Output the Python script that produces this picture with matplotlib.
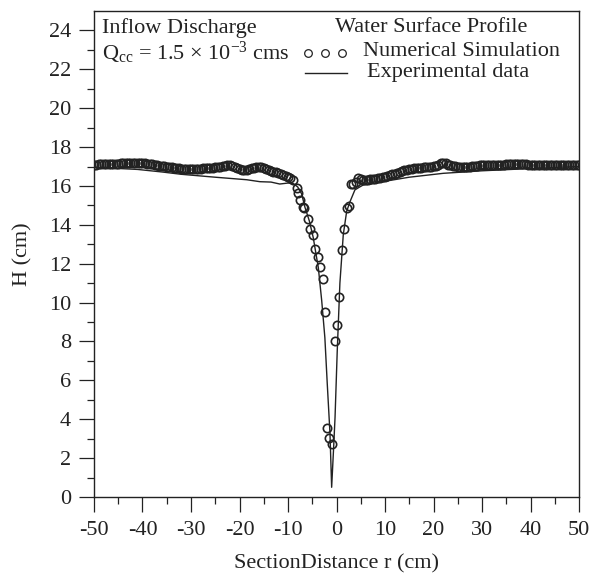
import matplotlib
matplotlib.use("Agg")
import matplotlib.pyplot as plt
import numpy as np
from matplotlib.ticker import MultipleLocator, FixedLocator

plt.rcParams['font.family'] = ['Liberation Serif', 'DejaVu Serif']
plt.rcParams['mathtext.fontset'] = 'custom'
plt.rcParams['mathtext.rm'] = 'Liberation Serif'
plt.rcParams['mathtext.it'] = 'Liberation Serif:italic'
plt.rcParams['axes.unicode_minus'] = False

# numerical simulation - flat part left of the well (0.5 cm spacing)
sim_left_x = np.arange(-50.0, -8.75, 0.5)
sim_left_y = [17.10, 17.10, 17.11, 17.11, 17.12, 17.12, 17.13, 17.13, 17.14, 17.14,
              17.15, 17.16, 17.17, 17.18, 17.18, 17.19, 17.19, 17.19, 17.18, 17.18,
              17.17, 17.16, 17.15, 17.13, 17.11, 17.09, 17.07, 17.05, 17.03, 17.01,
              16.99, 16.97, 16.95, 16.93, 16.92, 16.90, 16.89, 16.88, 16.87, 16.86,
              16.86, 16.86, 16.87, 16.88, 16.89, 16.90, 16.91, 16.92, 16.93, 16.94,
              16.95, 16.97, 16.99, 17.02, 17.05, 17.07, 17.06, 17.03, 16.98, 16.93,
              16.88, 16.84, 16.82, 16.83, 16.86, 16.90, 16.94, 16.97, 16.98, 16.96,
              16.92, 16.86, 16.80, 16.76, 16.74, 16.72, 16.68, 16.64, 16.58, 16.52,
              16.46, 16.40, 16.33]

# numerical simulation - around the drain
sim_mid_x = [-8.2, -7.9, -7.5, -6.9, -6.6, -5.8, -5.5, -4.9, -4.4, -3.9, -3.4, -2.85,
             -2.4, -1.9, -1.5, -0.9, -0.3, 0.2, 0.6, 1.05, 1.6, 2.2, 2.6]
sim_mid_y = [15.9, 15.65, 15.3, 14.9, 14.85, 14.3, 13.8, 13.5, 12.75, 12.35, 11.85, 11.2,
             9.5, 3.55, 3.05, 2.75, 8.0, 8.85, 10.3, 12.7, 13.8, 14.85, 14.95]

# numerical simulation - flat part right of the well
sim_right_x = np.arange(3.0, 50.25, 0.5)
sim_right_y = [16.10, 16.12, 16.18, 16.40, 16.35, 16.30, 16.30, 16.32, 16.34, 16.36,
               16.38, 16.40, 16.42, 16.45, 16.48, 16.52, 16.56, 16.60, 16.64, 16.68,
               16.72, 16.76, 16.80, 16.83, 16.86, 16.88, 16.90, 16.92, 16.93, 16.94,
               16.95, 16.96, 16.98, 17.00, 17.02, 17.05, 17.10, 17.16, 17.20, 17.16,
               17.10, 17.06, 17.04, 17.02, 17.00, 16.99, 16.98, 16.98, 16.99, 17.00,
               17.01, 17.03, 17.05, 17.06, 17.07, 17.08, 17.09, 17.09, 17.10, 17.10,
               17.10, 17.10, 17.10, 17.10, 17.11, 17.11, 17.11, 17.12, 17.12, 17.12,
               17.12, 17.11, 17.11, 17.10, 17.10, 17.10, 17.10, 17.10, 17.10, 17.10,
               17.10, 17.10, 17.10, 17.10, 17.10, 17.10, 17.10, 17.10, 17.10, 17.10,
               17.10, 17.10, 17.10, 17.10, 17.10]

# experimental data
exp_x = [-50, -45, -41, -36, -32, -25, -18.5, -15.8, -13.5, -11.7, -10, -8.9, -8.0,
         -7.2, -6.5, -5.6, -4.8, -3.75, -3.05, -2.4, -1.9, -1.35, -1.0, -0.6, -0.3,
         0.15, 0.7, 1.4, 2.1, 2.8, 3.8, 4.8, 5.5, 7, 9, 15, 22, 30, 36, 42, 50]
exp_y = [16.95, 16.9, 16.85, 16.72, 16.6, 16.45, 16.32, 16.22, 16.2, 16.1, 16.15, 16.12, 15.95,
         15.6, 14.9, 14.2, 13.35, 11.8, 10.1, 8.2, 5.8, 3.3, 0.5, 2.5, 4.1,
         7.5, 11.0, 13.5, 14.7, 15.2, 15.8, 15.95, 16.05, 16.1, 16.2, 16.45, 16.65, 16.78, 16.85, 16.92, 17.0]

sim_x = np.concatenate([sim_left_x, sim_mid_x, sim_right_x])
sim_y = np.concatenate([sim_left_y, sim_mid_y, sim_right_y])

ink = '#222222'

fig = plt.figure(figsize=(5.9, 5.74), dpi=100)
ax = fig.add_axes([94 / 590, 77 / 574, 485 / 590, 486 / 574])

ax.plot(exp_x, exp_y, color=ink, lw=1.0, zorder=2)
ax.plot(sim_x, sim_y, ls='none', marker='o', ms=6.0, mfc='none', mec=ink, mew=1.2, zorder=3)

ax.set_xlim(-50, 50)
ax.set_ylim(0, 25)
ax.xaxis.set_major_locator(MultipleLocator(10))
ax.xaxis.set_minor_locator(MultipleLocator(5))
ax.yaxis.set_major_locator(FixedLocator(np.arange(0, 25, 2)))
ax.yaxis.set_minor_locator(FixedLocator(np.arange(1, 24, 2)))
ax.tick_params(which='major', direction='out', length=10.5, width=0.9, labelsize=16, pad=6,
               colors=ink)
ax.tick_params(axis='x', which='major', pad=7)
ax.tick_params(which='minor', direction='out', length=5.2, width=0.9, colors=ink)
for sp in ax.spines.values():
    sp.set_linewidth(1.0)
    sp.set_color(ink)

ax.set_xlabel('SectionDistance r (cm)', fontsize=16, labelpad=10, color=ink)
ax.set_ylabel('H (cm)', fontsize=16, labelpad=12, color=ink)

# legend block drawn in axes fraction
tr = ax.transAxes
def fx(px):
    return (px - 94) / 485
def fy(py):
    return (497 - py) / 486

ax.text(fx(102), fy(28), 'Inflow Discharge', transform=tr, fontsize=16, va='center', ha='left', color=ink)
ax.text(fx(102), fy(53), r'Q$_{\rm cc}$ = 1.5 × 10$^{{-}3}$ cms', transform=tr, fontsize=16,
        va='center', ha='left', color=ink)
ax.text(fx(335), fy(28), 'Water Surface Profile', transform=tr, fontsize=16, va='center', ha='left', color=ink)
ax.plot([fx(308), fx(325), fx(342)], [fy(53)] * 3, ls='none', marker='o', ms=5.5, mfc='none',
        mec=ink, mew=0.9, transform=tr, clip_on=False)
ax.text(fx(363), fy(52), 'Numerical Simulation', transform=tr, fontsize=16, va='center', ha='left', color=ink)
ax.plot([fx(305), fx(347)], [fy(73), fy(73)], color=ink, lw=1.0, transform=tr)
ax.text(fx(367), fy(72), 'Experimental data', transform=tr, fontsize=16, va='center', ha='left', color=ink)

fig.savefig('out.png', dpi=100)
